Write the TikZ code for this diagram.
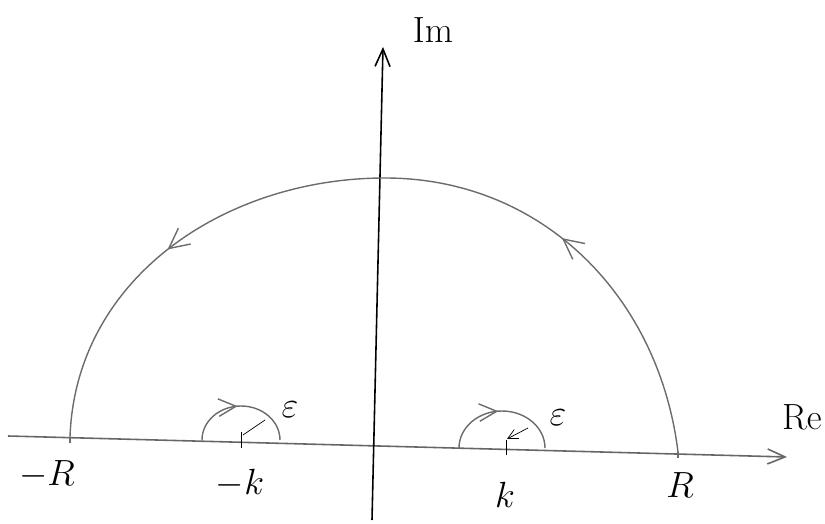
\documentclass[tikz,border=0pt]{standalone}
\usepackage{amsmath}
\usetikzlibrary{arrows.meta,decorations.markings,calc}

\tikzset{
  axisline/.style={line width=0.9pt,-{Straight Barb[length=3.5mm,width=3mm]}},
  contour/.style={gray!85!black,line width=0.8pt},
  fwd/.style={postaction={decorate},decoration={markings,
      mark=at position #1 with {\arrow{Straight Barb[length=3.5mm,width=3.5mm]}}}},
  fwdtwo/.style 2 args={postaction={decorate},decoration={markings,
      mark=at position #1 with {\arrow{Straight Barb[length=4mm,width=4mm]}},
      mark=at position #2 with {\arrow{Straight Barb[length=4mm,width=4mm]}}}},
  lbl/.style={font=\huge}
}

\begin{document}
\begin{tikzpicture}[x=0.02cm,y=0.02cm]
\useasboundingbox (0,0) rectangle (825,524);

% Axes
\coordinate (reS) at (8,88);
\coordinate (reE) at (787,67);
\coordinate (imS) at (372,4);
\coordinate (imE) at (383,477);
\draw[axisline,gray!80!black] (reS) -- (reE);
\draw[axisline] (imS) -- (imE);

% Big arc
\coordinate (mR) at (70,87);
\coordinate (R) at (678,72);
\coordinate (top) at (385,346);
\draw[contour,fwdtwo={0.28}{0.755}] (R) to[out=97,in=0] (top) to[out=180,in=88] (mR);
\draw[contour] (mR) -- ++(0,-6);
\draw[contour] (R) -- ++(0,-6);

% Small arc around -k
\coordinate (mk) at (241,83);
\draw[contour,fwd=0.47] ($(mk)+(-39,1)$) arc[start angle=180,end angle=0,x radius=0.78cm,y radius=0.68cm];
\draw (241,92) -- (241,76);
\draw (243,89) -- (265,104);

% Small arc around k
\coordinate (k) at (503,76);
\draw[contour,fwd=0.47] ($(k)+(-44,0)$) arc[start angle=180,end angle=0,x radius=0.86cm,y radius=0.74cm];
\draw (506,84) -- (506,69);
\draw[-{Straight Barb[length=2mm,width=2mm]}] (528,96) -- (507,85);

% Labels
\node[lbl] (lIm) at (433,494) {$\mathrm{Im}$};
\node[lbl] (lRe) at (802,107) {$\mathrm{Re}$};
\node[lbl] (lmR) at (47,49) {$-R$};
\node[lbl] (lmk) at (240,41) {$-k$};
\node[lbl] (lk) at (505,29) {$k$};
\node[lbl] (lR) at (680,39) {$R$};
\node[lbl] (epsA) at (290,114) {$\varepsilon$};
\node[lbl] (epsB) at (558,106) {$\varepsilon$};

\end{tikzpicture}
\end{document}
